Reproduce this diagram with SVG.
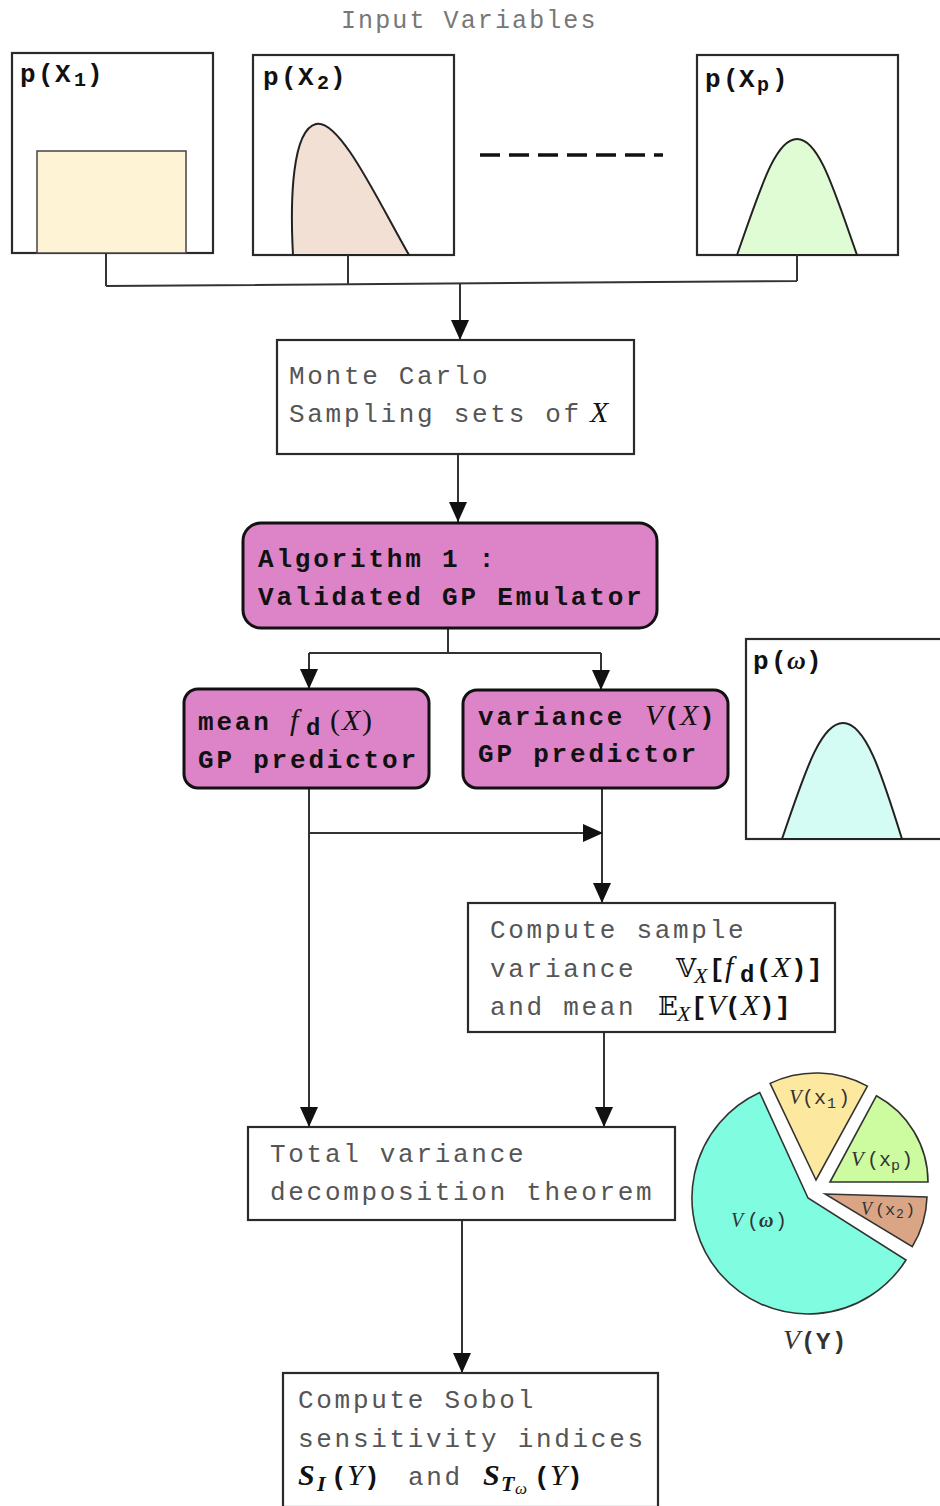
<svg xmlns="http://www.w3.org/2000/svg" width="940" height="1506" viewBox="0 0 940 1506">
<style>
.bg{fill:#fff}
.box{fill:#fff;stroke:#2a2a2a;stroke-width:2.2}
.pink{fill:#dd84c8;stroke:#111;stroke-width:3}
.conn{fill:none;stroke:#333;stroke-width:2}
.mono{font-family:"Liberation Mono",monospace;font-size:26px;letter-spacing:2.7px;fill:#555}
.b{font-family:"Liberation Mono",monospace;font-weight:bold;font-size:26px;letter-spacing:2.8px;fill:#111}
.mi{font-family:"Liberation Serif",serif;font-style:italic;font-weight:normal;letter-spacing:0;fill:#111}
.bi{font-family:"Liberation Serif",serif;font-style:italic;font-weight:bold;letter-spacing:0;fill:#111}
.ds{font-family:"DejaVu Serif","DejaVu Sans",serif;font-weight:normal;letter-spacing:0;fill:#111}
.lbl{font-family:"Liberation Mono",monospace;font-weight:bold;font-size:26px;letter-spacing:0;fill:#111}
.pie{stroke:#333;stroke-width:1.6}
.pt{font-family:"Liberation Mono",monospace;font-size:20px;fill:#333}
.curve{stroke:#222;stroke-width:2}
</style>
<defs>
<marker id="ah" markerUnits="userSpaceOnUse" markerWidth="20" markerHeight="18" refX="20" refY="9" orient="auto">
<path d="M0,0 L20,9 L0,18 Z" fill="#111"/>
</marker>
</defs>
<rect class="bg" x="0" y="0" width="940" height="1506"/>

<text class="mono" x="341" y="28" style="font-size:25px;letter-spacing:2.1px;fill:#777">Input Variables</text>

<g id="px1">
<rect class="box" x="12" y="53" width="201" height="200"/>
<rect x="37" y="151" width="149" height="102" fill="#fef3d5" stroke="#444" stroke-width="1.5"/>
<text class="lbl" y="82"><tspan x="20">p</tspan><tspan x="38">(</tspan><tspan x="55">X</tspan><tspan x="74" y="86" style="font-size:20px">1</tspan><tspan x="87" y="82">)</tspan></text>
</g>

<g id="px2">
<rect class="box" x="253" y="55" width="201" height="200"/>
<path class="curve" d="M293,255 C290,200 292,130 316,124 C340,118 380,205 409,255 Z" fill="#f2e0d4"/>
<text class="lbl" y="85"><tspan x="263">p</tspan><tspan x="281">(</tspan><tspan x="298">X</tspan><tspan x="317" y="89" style="font-size:20px">2</tspan><tspan x="330" y="85">)</tspan></text>
</g>

<path d="M480,155 H663" stroke="#111" stroke-width="3.5" stroke-dasharray="20 9"/>

<g id="pxp">
<rect class="box" x="697" y="55" width="201" height="200"/>
<path class="curve" d="M737,255 C760,190 775,139 797,139 C819,139 834,190 857,255 Z" fill="#e0fcd4"/>
<text class="lbl" y="87"><tspan x="705">p</tspan><tspan x="723">(</tspan><tspan x="739">X</tspan><tspan x="757" y="91" style="font-size:20px">p</tspan><tspan x="772" y="87">)</tspan></text>
</g>

<g id="pw">
<rect class="box" x="746" y="639" width="210" height="200"/>
<path class="curve" d="M782,839 C804,775 820,723 843,723 C866,723 882,775 902,839 Z" fill="#d4fcf4"/>
<text class="lbl" y="669"><tspan x="753">p</tspan><tspan x="771">(</tspan><tspan x="787" class="bi" style="font-size:26px">ω</tspan><tspan x="806">)</tspan></text>
</g>

<g id="connectors">
<path class="conn" d="M106,253 V286 M348,255 V285 M797,255 V281 M106,286 L797,281"/>
<path class="conn" d="M460,284 V340" marker-end="url(#ah)"/>
<path class="conn" d="M458,454 V522" marker-end="url(#ah)"/>
<path class="conn" d="M448,628 V653 M309,653 H601"/>
<path class="conn" d="M309,653 V689" marker-end="url(#ah)"/>
<path class="conn" d="M601,653 V690" marker-end="url(#ah)"/>
<path class="conn" d="M602,788 V903" marker-end="url(#ah)"/>
<path class="conn" d="M309,833 H603" marker-end="url(#ah)"/>
<path class="conn" d="M309,788 V1127" marker-end="url(#ah)"/>
<path class="conn" d="M604,1032 V1127" marker-end="url(#ah)"/>
<path class="conn" d="M462,1220 V1373" marker-end="url(#ah)"/>
</g>

<g id="montecarlo">
<rect class="box" x="277" y="340" width="357" height="114"/>
<text class="mono" x="289" y="384">Monte Carlo</text>
<text class="mono" x="289" y="422">Sampling sets of<tspan class="mi" x="590" style="font-size:30px">X</tspan></text>
</g>

<g id="algorithm">
<rect class="pink" x="243" y="523" width="414" height="105" rx="18"/>
<text class="b" x="258" y="567">Algorithm 1 :</text>
<text class="b" x="258" y="605">Validated GP Emulator</text>
</g>

<g id="mean">
<rect class="pink" x="184" y="689" width="245" height="99" rx="14"/>
<text class="b" y="730"><tspan x="198">mean</tspan><tspan class="mi" x="290" style="font-size:30px">f</tspan><tspan x="306" y="735" style="font-size:24px;letter-spacing:0">d</tspan><tspan class="mi" x="330" y="730" style="font-size:30px;font-style:normal">(</tspan><tspan class="mi" x="342" style="font-size:30px">X</tspan><tspan class="mi" x="362" style="font-size:30px;font-style:normal">)</tspan></text>
<text class="b" x="198" y="768">GP predictor</text>
</g>

<g id="variance">
<rect class="pink" x="463" y="690" width="265" height="98" rx="14"/>
<text class="b" y="725"><tspan x="478">variance</tspan><tspan class="mi" x="645" style="font-size:30px">V</tspan><tspan x="664" style="letter-spacing:0">(</tspan><tspan class="mi" x="680" style="font-size:30px">X</tspan><tspan x="699" style="letter-spacing:0">)</tspan></text>
<text class="b" x="478" y="762">GP predictor</text>
</g>

<g id="compute">
<rect class="box" x="468" y="903" width="367" height="129"/>
<text class="mono" x="490" y="938">Compute sample</text>
<text class="mono" y="977"><tspan x="490">variance</tspan><tspan class="ds" x="676" style="font-size:26px">𝕍</tspan><tspan class="mi" x="694" y="983" style="font-size:22px">X</tspan><tspan class="b" x="709" y="977" style="letter-spacing:0">[</tspan><tspan class="mi" x="725" style="font-size:30px">f</tspan><tspan class="b" x="740" y="982" style="font-size:24px;letter-spacing:0">d</tspan><tspan class="b" x="756" y="977" style="letter-spacing:0">(</tspan><tspan class="mi" x="772" style="font-size:30px">X</tspan><tspan class="b" x="791" style="letter-spacing:0">)</tspan><tspan class="b" x="807" style="letter-spacing:0">]</tspan></text>
<text class="mono" y="1015"><tspan x="490">and mean</tspan><tspan class="ds" x="658" style="font-size:26px">𝔼</tspan><tspan class="mi" x="677" y="1021" style="font-size:22px">X</tspan><tspan class="b" x="691" y="1015" style="letter-spacing:0">[</tspan><tspan class="mi" x="707" style="font-size:30px">V</tspan><tspan class="b" x="725" style="letter-spacing:0">(</tspan><tspan class="mi" x="741" style="font-size:30px">X</tspan><tspan class="b" x="759" style="letter-spacing:0">)</tspan><tspan class="b" x="775" style="letter-spacing:0">]</tspan></text>
</g>

<g id="total">
<rect class="box" x="248" y="1127" width="427" height="93"/>
<text class="mono" x="270" y="1162">Total variance</text>
<text class="mono" x="270" y="1200">decomposition theorem</text>
</g>

<g id="sobol">
<rect class="box" x="283" y="1373" width="375" height="134"/>
<text class="mono" x="298" y="1408">Compute Sobol</text>
<text class="mono" x="298" y="1447">sensitivity indices</text>
<text class="mono" y="1485"><tspan class="bi" x="298" style="font-size:30px">S</tspan><tspan class="bi" x="317" y="1491" style="font-size:22px">I</tspan><tspan class="b" x="331" y="1485" style="letter-spacing:0">(</tspan><tspan class="mi" x="347" style="font-size:30px">Y</tspan><tspan class="b" x="364" style="letter-spacing:0">)</tspan><tspan x="408">and</tspan><tspan class="bi" x="483" style="font-size:30px">S</tspan><tspan class="bi" x="501" y="1491" style="font-size:22px">T</tspan><tspan class="mi" x="515" y="1494" style="font-size:17px">ω</tspan><tspan class="b" x="534" y="1485" style="letter-spacing:0">(</tspan><tspan class="mi" x="550" style="font-size:30px">Y</tspan><tspan class="b" x="567" style="letter-spacing:0">)</tspan></text>
</g>

<g id="pie">
<path class="pie" fill="#80fde0" d="M808,1198 L759.7,1092.5 A116,116 0 1 0 906,1260 Z"/>
<path class="pie" fill="#fde8a0" d="M816,1180 L770.1,1083.4 A107,107 0 0 1 867.4,1086.1 Z"/>
<path class="pie" fill="#cdfca0" d="M830,1182 L876.4,1095.8 A98,98 0 0 1 928,1182 Z"/>
<path class="pie" fill="#d9a585" d="M825,1194 L927,1197 A102,102 0 0 1 912.3,1246.7 Z"/>
<text class="pt" y="1104"><tspan class="mi" x="789" style="font-size:21px;fill:#333">V</tspan><tspan x="802">(</tspan><tspan x="814">x</tspan><tspan x="827" y="1108" style="font-size:15px">1</tspan><tspan x="838" y="1104">)</tspan></text>
<text class="pt" y="1166"><tspan class="mi" x="851" style="font-size:21px;fill:#333">V</tspan><tspan x="867">(</tspan><tspan x="879">x</tspan><tspan x="891" y="1170" style="font-size:15px">p</tspan><tspan x="901" y="1166">)</tspan></text>
<text class="pt" y="1215" style="font-size:17px"><tspan class="mi" x="861" style="font-size:18px;fill:#333">V</tspan><tspan x="875">(</tspan><tspan x="885">x</tspan><tspan x="896" y="1218" style="font-size:13px">2</tspan><tspan x="905" y="1215">)</tspan></text>
<text class="pt" y="1227"><tspan class="mi" x="731" style="font-size:20px;fill:#333">V</tspan><tspan x="747">(</tspan><tspan class="bi" x="759" style="font-size:20px;fill:#333">ω</tspan><tspan x="775">)</tspan></text>
<text class="pt" y="1349" style="font-size:24px;font-weight:bold"><tspan class="mi" x="783" style="font-size:28px;fill:#333">V</tspan><tspan x="801">(</tspan><tspan x="816">Y</tspan><tspan x="832">)</tspan></text>
</g>
</svg>
